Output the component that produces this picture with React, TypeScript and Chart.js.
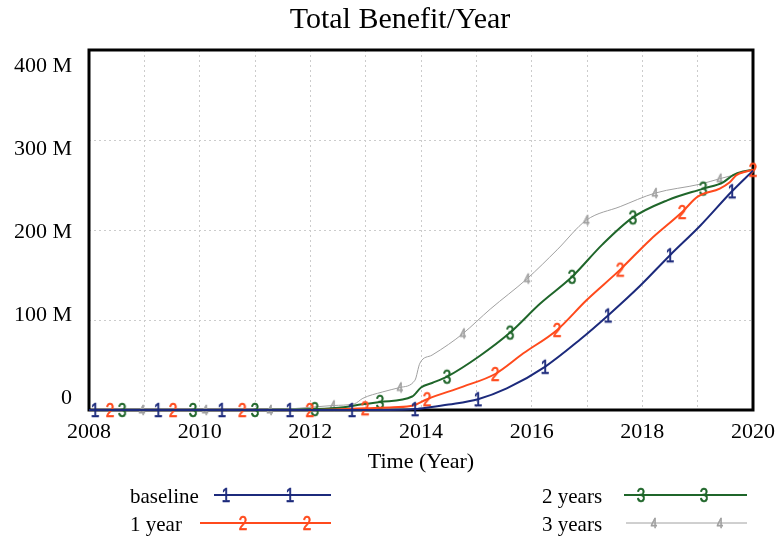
import React, { useEffect, useRef } from "react";
import { Chart, registerables } from "chart.js";

Chart.register(...registerables);

// ---------------- data ----------------
const TITLE = "Total Benefit/Year";
const X_TITLE = "Time (Year)";
const X_MIN = 2008;
const X_MAX = 2020;
const X_LABEL_YEARS = [2008, 2010, 2012, 2014, 2016, 2018, 2020];
const Y_MIN = 0;
const Y_MAX = 400;
const Y_TICK_VALUES = [0, 100, 200, 300, 400];
const Y_TICK_LABELS = ["0", "100 M", "200 M", "300 M", "400 M"];

const SERIES_NAMES = ["baseline", "1 year", "2 years", "3 years"];
const SERIES_DIGITS = ["1", "2", "3", "4"];
const SERIES_COLORS = ["#1c2a7c", "#ff4a1c", "#1f662a", "#a0a0a0"];

// values in millions
const baselineTime = [2008, 2008.11, 2009.25, 2010.4, 2011.63, 2012.75, 2013.4, 2013.89, 2014.16, 2014.5, 2015.03, 2015.55, 2016.24, 2016.87, 2017.38, 2017.96, 2018.5, 2019.05, 2019.62, 2020];
const baselineValue = [0, 0, 0, 0, 0, 0, 0, 1, 3, 6, 12, 24, 48, 78, 105, 138, 172, 205, 243, 266];
const baselineMarkers = [2008.11, 2009.25, 2010.4, 2011.63, 2012.75, 2013.89, 2015.03, 2016.24, 2017.38, 2018.5, 2019.62];

const oneYearTime = [2008, 2008.38, 2009.52, 2010.77, 2011.99, 2012.99, 2013.5, 2013.86, 2014.11, 2014.76, 2015.34, 2015.85, 2016.46, 2016.99, 2017.6, 2018.14, 2018.72, 2019.0, 2019.4, 2019.58, 2019.7, 2019.88, 2020];
const oneYearValue = [0, 0, 0, 0, 0, 2, 3, 5, 12, 26, 40, 63, 89, 122, 156, 189, 220, 237, 246, 253, 261, 265, 267];
const oneYearMarkers = [2008.38, 2009.52, 2010.77, 2011.99, 2012.99, 2014.11, 2015.34, 2016.46, 2017.6, 2018.72, 2020];

const twoYearsTime = [2008, 2008.6, 2009.88, 2011.0, 2012.08, 2012.6, 2012.9, 2013.26, 2013.84, 2014.0, 2014.2, 2014.47, 2015.06, 2015.61, 2016.15, 2016.73, 2017.28, 2017.83, 2018.45, 2019.1, 2019.46, 2019.64, 2019.82, 2020];
const twoYearsValue = [0, 0, 0, 0, 1, 3, 6, 9, 15, 25, 30, 37, 60, 86, 118, 148, 184, 214, 233, 246, 253, 261, 265, 267];
const twoYearsMarkers = [2008.6, 2009.88, 2011.0, 2012.08, 2013.26, 2014.47, 2015.61, 2016.73, 2017.83, 2019.1];

const threeYearsTime = [2008, 2008.96, 2010.1, 2011.27, 2011.8, 2012.41, 2012.8, 2012.95, 2013.3, 2013.62, 2013.89, 2013.98, 2014.2, 2014.5, 2014.76, 2015.25, 2015.92, 2016.46, 2016.99, 2017.6, 2018.23, 2019.05, 2019.4, 2019.77, 2020];
const threeYearsValue = [0, 0, 0, 0, 2, 5, 7, 13, 20, 25, 33, 52, 61, 73, 85, 112, 146, 178, 211, 226, 241, 251, 257, 263, 267];
const threeYearsMarkers = [2008.96, 2010.1, 2011.27, 2012.41, 2013.62, 2014.76, 2015.92, 2016.99, 2018.23, 2019.4];

const SERIES_TIMES = [baselineTime, oneYearTime, twoYearsTime, threeYearsTime];
const SERIES_VALUES = [baselineValue, oneYearValue, twoYearsValue, threeYearsValue];
const SERIES_MARKERS = [baselineMarkers, oneYearMarkers, twoYearsMarkers, threeYearsMarkers];

// ---------------- styling / layout ----------------
const W = 778;
const H = 540;
const SERIF = '"Liberation Serif", "DejaVu Serif", serif';
const LINE_WIDTHS = [2, 2, 2, 1];
const MARKER_SIZES = [20, 20, 20, 15];

const LEGEND_POS = [
  { tx: 130, l0: 214, l1: 331, y: 495, m: [226, 290] },
  { tx: 130, l0: 200, l1: 331, y: 523, m: [243, 307] },
  { tx: 542, l0: 624, l1: 747, y: 495, m: [641, 704] },
  { tx: 542, l0: 626, l1: 747, y: 523, m: [654, 720] },
];

function makeMarker(digit: string, color: string, size: number): HTMLCanvasElement {
  const c = document.createElement("canvas");
  c.width = 16;
  c.height = 22;
  const g = c.getContext("2d")!;
  g.fillStyle = color;
  g.strokeStyle = color;
  g.lineWidth = 0.7;
  g.font = `${size}px "Liberation Sans", "DejaVu Sans", sans-serif`;
  g.textAlign = "center";
  g.textBaseline = "middle";
  g.save();
  g.translate(8, 12);
  g.scale(0.76, 1);
  g.fillText(digit, 0, 0);
  g.strokeText(digit, 0, 0);
  g.restore();
  return c;
}

export default function App() {
  const canvasRef = useRef<HTMLCanvasElement | null>(null);

  useEffect(() => {
    const canvas = canvasRef.current;
    if (!canvas) return;

    const markers = SERIES_DIGITS.map((d, i) => makeMarker(d, SERIES_COLORS[i], MARKER_SIZES[i]));

    const datasets = SERIES_NAMES.map((name, i) => {
      const mset = SERIES_MARKERS[i];
      return {
        label: name,
        data: SERIES_TIMES[i].map((t, k) => ({ x: t, y: SERIES_VALUES[i][k] })),
        borderColor: SERIES_COLORS[i],
        backgroundColor: SERIES_COLORS[i],
        borderWidth: LINE_WIDTHS[i],
        cubicInterpolationMode: "monotone" as const,
        pointStyle: markers[i],
        pointRadius: (ctx: any) => (ctx.raw && mset.includes(ctx.raw.x) ? 5 : 0),
        pointHoverRadius: 0,
        clip: false as const,
        fill: false,
      };
    });

    const decorPlugin = {
      id: "decor",
      beforeDatasetsDraw(chart: any) {
        const { ctx, chartArea } = chart;
        ctx.save();
        ctx.strokeStyle = "#000";
        ctx.lineWidth = 3;
        ctx.strokeRect(chartArea.left, chartArea.top, chartArea.right - chartArea.left, chartArea.bottom - chartArea.top);
        ctx.restore();
      },
      afterDraw(chart: any) {
        const { ctx, chartArea } = chart;
        const xs = chart.scales.x;
        ctx.save();
        ctx.fillStyle = "#000";
        ctx.font = `30px ${SERIF}`;
        ctx.textAlign = "center";
        ctx.textBaseline = "alphabetic";
        ctx.fillText(TITLE, 400, 28);
        ctx.font = `22px ${SERIF}`;
        X_LABEL_YEARS.forEach((yr) => {
          ctx.fillText(String(yr), xs.getPixelForValue(yr), 438);
        });
        ctx.fillText(X_TITLE, (chartArea.left + chartArea.right) / 2, 468);
        ctx.textAlign = "right";
        const top = chartArea.top + 22;
        const bot = chartArea.bottom - 6;
        Y_TICK_VALUES.forEach((v, i) => {
          const frac = (v - Y_MIN) / (Y_MAX - Y_MIN);
          const y = bot - frac * (bot - top);
          ctx.fillText(Y_TICK_LABELS[i], 72, y);
        });
        ctx.font = `21px ${SERIF}`;
        ctx.textAlign = "left";
        SERIES_NAMES.forEach((name, i) => {
          const p = LEGEND_POS[i];
          ctx.fillStyle = "#000";
          ctx.fillText(name, p.tx, p.y + 8);
          ctx.strokeStyle = SERIES_COLORS[i];
          ctx.lineWidth = LINE_WIDTHS[i];
          ctx.beginPath();
          ctx.moveTo(p.l0, p.y);
          ctx.lineTo(p.l1, p.y);
          ctx.stroke();
          const mk = markers[i];
          p.m.forEach((mx) => ctx.drawImage(mk, mx - mk.width / 2, p.y - mk.height / 2));
        });
        ctx.restore();
      },
    };

    const chart = new Chart(canvas, {
      type: "line",
      data: { datasets: datasets as any },
      options: {
        animation: false,
        responsive: false,
        events: [],
        layout: { padding: { left: 89, right: W - 753, top: 50, bottom: H - 410 } },
        plugins: {
          legend: { display: false },
          title: { display: false },
          tooltip: { enabled: false },
        },
        scales: {
          x: {
            type: "linear",
            min: X_MIN,
            max: X_MAX,
            ticks: { display: false, stepSize: 1 },
            grid: { color: "#cccccc", lineWidth: 1, drawTicks: false },
            border: { display: false, dash: [2, 3] },
            afterFit: (s: any) => {
              s.height = 0;
            },
          },
          y: {
            type: "linear",
            min: Y_MIN,
            max: Y_MAX,
            ticks: { display: false, stepSize: 100 },
            grid: { color: "#cccccc", lineWidth: 1, drawTicks: false },
            border: { display: false, dash: [2, 3] },
            afterFit: (s: any) => {
              s.width = 0;
            },
          },
        },
      },
      plugins: [decorPlugin],
    });

    return () => chart.destroy();
  }, []);

  return (
    <div style={{ position: "absolute", left: 0, top: 0, width: W, height: H, background: "#fff" }}>
      <canvas ref={canvasRef} width={W} height={H} style={{ display: "block" }} />
    </div>
  );
}
